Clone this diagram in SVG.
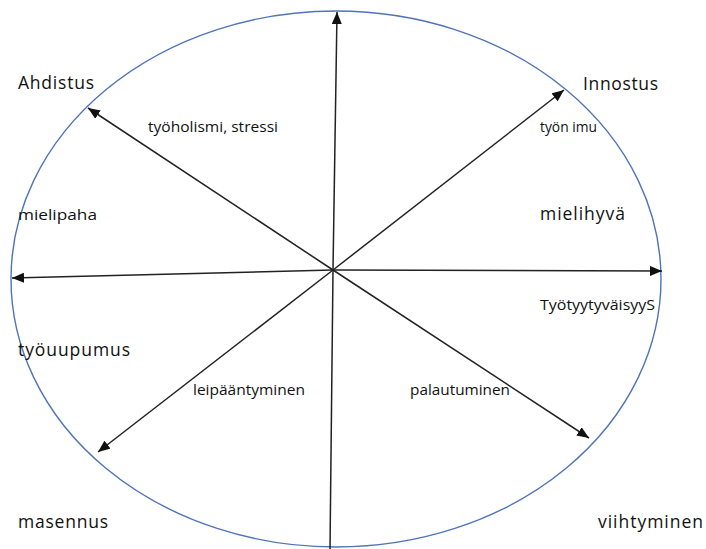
<svg xmlns="http://www.w3.org/2000/svg" width="706" height="549" viewBox="0 0 706 549">
  <style>
    .frame { fill: none; stroke: #4f74b8; stroke-width: 1.4; }
    .axis { fill: none; stroke: #222; stroke-width: 1.5; }
    .big { font-family: "Open Sans", "Liberation Sans", sans-serif; font-size: 17.5px; fill: #111; }
    .small { font-family: "Open Sans", "Liberation Sans", sans-serif; font-size: 15px; fill: #111; }
  </style>
  <defs>
    <marker id="head" viewBox="0 0 12 10" refX="12" refY="5" markerWidth="12" markerHeight="10" markerUnits="userSpaceOnUse" orient="auto">
      <path d="M0,0 L12,5 L0,10 Z" fill="#111"/>
    </marker>
  </defs>

  <rect width="706" height="549" fill="#fff"/>

  <!-- outer ellipse -->
  <g id="frame">
    <ellipse class="frame" cx="336" cy="279" rx="325" ry="268"/>
  </g>

  <!-- axes radiating from the centre -->
  <g id="connectors">
    <line class="axis" x1="333" y1="270" x2="337" y2="12" marker-end="url(#head)"/>
    <line class="axis" x1="333" y1="270" x2="330" y2="549"/>
    <line class="axis" x1="333" y1="270" x2="12" y2="278" marker-end="url(#head)"/>
    <line class="axis" x1="333" y1="270" x2="662" y2="271" marker-end="url(#head)"/>
    <line class="axis" x1="333" y1="270" x2="88" y2="108" marker-end="url(#head)"/>
    <line class="axis" x1="333" y1="270" x2="564" y2="90" marker-end="url(#head)"/>
    <line class="axis" x1="333" y1="270" x2="98" y2="452" marker-end="url(#head)"/>
    <line class="axis" x1="333" y1="270" x2="589" y2="438" marker-end="url(#head)"/>
  </g>

  <g id="ahdistus"><text class="big" x="18" y="89" textLength="76">Ahdistus</text></g>
  <g id="innostus"><text class="big" x="583" y="90" textLength="75">Innostus</text></g>
  <g id="tyoholismi"><text class="small" x="148" y="132" textLength="130" lengthAdjust="spacingAndGlyphs">työholismi, stressi</text></g>
  <g id="tyon-imu"><text class="small" x="540" y="132" font-size="13" textLength="57" lengthAdjust="spacingAndGlyphs">työn imu</text></g>
  <g id="mielipaha"><text class="small" x="18" y="220" textLength="79" lengthAdjust="spacingAndGlyphs">mielipaha</text></g>
  <g id="mielihyva"><text class="big" x="540" y="220" textLength="85">mielihyvä</text></g>
  <g id="tyotyytyvaisyys"><text class="small" x="540" y="310" textLength="115" lengthAdjust="spacingAndGlyphs">TyötyytyväisyyS</text></g>
  <g id="tyouupumus"><text class="big" x="18" y="356" textLength="112">työuupumus</text></g>
  <g id="leipaantyminen"><text class="small" x="193" y="395" textLength="112" lengthAdjust="spacingAndGlyphs">leipääntyminen</text></g>
  <g id="palautuminen"><text class="small" x="410" y="395" textLength="100" lengthAdjust="spacingAndGlyphs">palautuminen</text></g>
  <g id="masennus"><text class="big" x="18" y="528" textLength="90">masennus</text></g>
  <g id="viihtyminen"><text class="big" x="598" y="528" textLength="105">viihtyminen</text></g>
</svg>
